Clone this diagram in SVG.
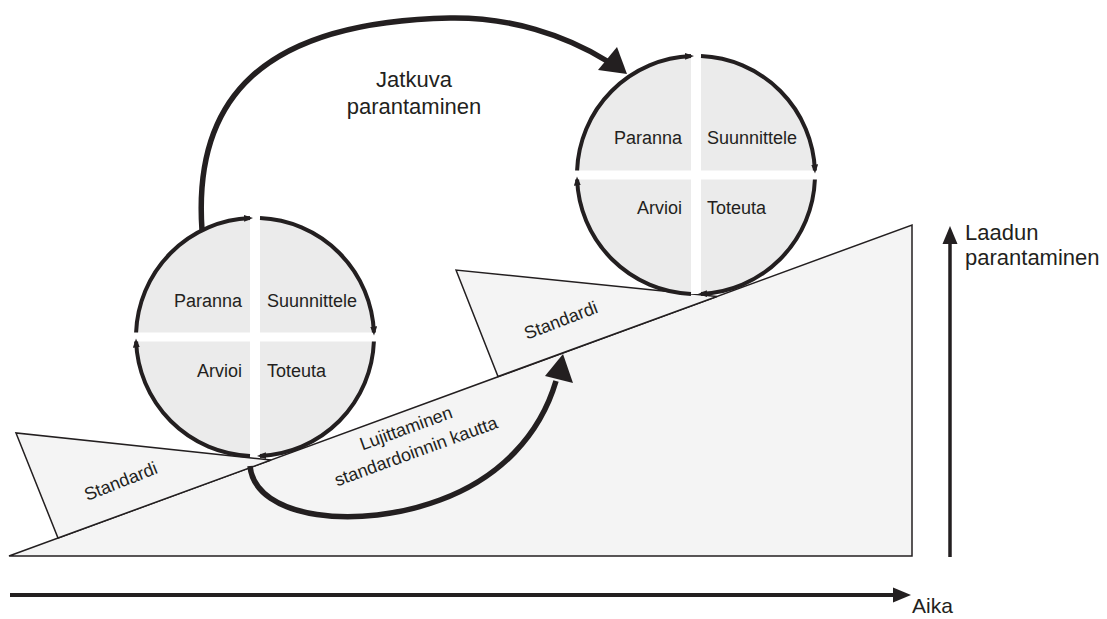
<svg xmlns="http://www.w3.org/2000/svg" width="1107" height="619" viewBox="0 0 1107 619">
<style>
  .txt{font-family:"Liberation Sans",Arial,sans-serif;fill:#231f20}
  .q{font-size:18px}
  .big{font-size:22px}
  .ramp{fill:#f4f4f4;stroke:#231f20;stroke-width:1.5;stroke-linejoin:miter}
  .disc{fill:#ebebeb}
  .gap{fill:#ffffff}
  .arc{fill:none;stroke:#231f20;stroke-width:4;marker-end:url(#sm)}
  .flow{fill:none;stroke:#231f20;stroke-width:5.5}
  .head{fill:#231f20}
</style>
<defs>
  <marker id="sm" markerUnits="userSpaceOnUse" markerWidth="10" markerHeight="8" refX="6" refY="3.5" orient="auto">
    <path d="M0,0 L9,3.5 L0,7 z" fill="#231f20"/>
  </marker>
</defs>
<rect width="1107" height="619" fill="#ffffff"/>

<g id="ramp">
  <polygon class="ramp" points="9,556 912,556 912,225"/>
</g>
<g id="standard-left">
  <polygon class="ramp" points="16,433 58,538 271,460"/>
  <text class="txt q" text-anchor="middle" transform="translate(123,487) rotate(-21.5)">Standardi</text>
</g>
<g id="standard-right">
  <polygon class="ramp" points="456,270 498,376.5 717,296.5"/>
  <text class="txt q" text-anchor="middle" transform="translate(563,326) rotate(-21)">Standardi</text>
</g>

<g id="pdca-left">
  <circle class="disc" cx="255" cy="337" r="119"/>
  <rect class="gap" x="250" y="218" width="10" height="238"/>
  <rect class="gap" x="136" y="332.5" width="238" height="9"/>
  <path class="arc" d="M136.1,332.5 A119,119 0 0 1 250,218.1"/>
  <path class="arc" d="M260,218.1 A119,119 0 0 1 373.9,332.5"/>
  <path class="arc" d="M373.9,341.5 A119,119 0 0 1 260,455.9"/>
  <path class="arc" d="M250,455.9 A119,119 0 0 1 136.1,341.5"/>
  <text class="txt q" x="242" y="307" text-anchor="end">Paranna</text>
  <text class="txt q" x="267" y="307">Suunnittele</text>
  <text class="txt q" x="242" y="377" text-anchor="end">Arvioi</text>
  <text class="txt q" x="267" y="377">Toteuta</text>
</g>

<g id="pdca-right">
  <circle class="disc" cx="696" cy="175" r="119"/>
  <rect class="gap" x="691" y="56" width="10" height="238"/>
  <rect class="gap" x="577" y="170.5" width="238" height="9"/>
  <path class="arc" d="M577.1,170.5 A119,119 0 0 1 691,56.1"/>
  <path class="arc" d="M701,56.1 A119,119 0 0 1 814.9,170.5"/>
  <path class="arc" d="M814.9,179.5 A119,119 0 0 1 701,293.9"/>
  <path class="arc" d="M691,293.9 A119,119 0 0 1 577.1,179.5"/>
  <text class="txt q" x="682" y="144" text-anchor="end">Paranna</text>
  <text class="txt q" x="707" y="144">Suunnittele</text>
  <text class="txt q" x="682" y="214" text-anchor="end">Arvioi</text>
  <text class="txt q" x="707" y="214">Toteuta</text>
</g>

<g id="connectors">
  <g id="jatkuva">
    <path class="flow" d="M202,230 C193,100 260,22 450,18 C510,17 565,35 607,61"/>
    <polygon class="head" points="617,47 627,74 598,70"/>
  </g>
  <g id="lujittaminen">
    <path class="flow" d="M250,466 C255,520 360,530 440,500 C500,478 540,435 556,381"/>
    <polygon class="head" points="563,354 545,376 573,383"/>
  </g>
</g>

<g id="label-jatkuva">
  <text class="txt big" x="414" y="87" text-anchor="middle">Jatkuva</text>
  <text class="txt big" x="414" y="114" text-anchor="middle">parantaminen</text>
</g>
<g id="label-lujittaminen">
  <text class="txt q" text-anchor="middle" transform="translate(408,434) rotate(-20)">Lujittaminen</text>
  <text class="txt q" text-anchor="middle" transform="translate(418,457) rotate(-20)">standardoinnin kautta</text>
</g>

<g id="axis-quality">
  <line x1="950" y1="557" x2="950" y2="240" stroke="#231f20" stroke-width="3.5"/>
  <polygon class="head" points="950,226 957.5,244 942.5,244"/>
  <text class="txt big" x="965" y="240">Laadun</text>
  <text class="txt big" x="965" y="265">parantaminen</text>
</g>
<g id="axis-time">
  <line x1="10" y1="595" x2="897" y2="595" stroke="#231f20" stroke-width="4"/>
  <polygon class="head" points="911,595 893,587.5 893,602.5"/>
  <text class="txt" x="912" y="613" font-size="21">Aika</text>
</g>
</svg>
